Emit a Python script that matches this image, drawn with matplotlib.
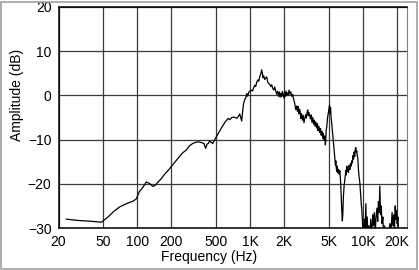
import matplotlib
matplotlib.use("Agg")
import matplotlib.pyplot as plt
from matplotlib.patches import Rectangle

# frequency response (Hz, dB)
freq = [23.5, 30, 40, 48, 55, 62, 70, 80, 92, 98, 104, 112, 120, 128, 137, 143, 150, 162, 175, 190,
        200, 220, 240, 252, 270, 290, 309, 330, 350, 372, 390, 403, 415, 425, 438, 450, 465, 480, 500, 515,
        540, 558, 580, 600, 619, 640, 660, 686, 720, 759, 785, 807, 825, 841, 858, 875, 894, 912, 932, 950,
        970, 991, 1020, 1050, 1075, 1100, 1120, 1143, 1170, 1190, 1214, 1240, 1265, 1285, 1300, 1320, 1346, 1370, 1402, 1430,
        1460, 1490, 1520, 1550, 1585, 1620, 1650, 1690, 1719, 1750, 1780, 1810, 1840, 1870, 1900, 1930, 1960, 1990, 2020, 2050,
        2080, 2110, 2150, 2180, 2210, 2250, 2290, 2335, 2380, 2430, 2483, 2530, 2580, 2620, 2660, 2700, 2740, 2780, 2808, 2850,
        2900, 2950, 3000, 3048, 3100, 3150, 3200, 3240, 3280, 3320, 3375, 3420, 3470, 3530, 3590, 3650, 3700, 3760, 3820, 3890,
        3950, 4000, 4070, 4140, 4200, 4260, 4320, 4400, 4450, 4520, 4580, 4640, 4680, 4720, 4780, 4840, 4880, 4940, 5000, 5050,
        5100, 5160, 5220, 5290, 5350, 5420, 5510, 5580, 5640, 5700, 5740, 5800, 5860, 5920, 5980, 6050, 6120, 6230, 6330, 6420,
        6500, 6560, 6620, 6700, 6800, 6900, 6980, 7050, 7120, 7180, 7260, 7350, 7440, 7540, 7640, 7750, 7850, 7950, 8050, 8150,
        8250, 8350, 8450, 8530, 8630, 8720, 8800, 8900, 9000, 9100, 9200, 9380, 9500, 9650, 9770, 9900, 9960, 10150, 10300, 10450,
        10600, 10750, 10900, 11050, 11250, 11500, 11700, 11900, 12200, 12400, 12600, 12850, 13050, 13300, 13500, 13700, 13900, 14100, 14300, 14500,
        14750, 15000, 15200, 15500, 15900, 16300, 16800, 17300, 17700, 18100, 18400, 18700, 19000, 19300, 19550, 19800, 20100, 20400, 20700, 21000]
amp = [-28.0, -28.3, -28.5, -28.7, -27.5, -26.2, -25.2, -24.5, -23.9, -23.4, -21.8, -20.8, -19.6, -19.9, -20.6, -20.4, -19.8, -18.9, -17.8, -16.8,
       -16.1, -14.8, -13.6, -13.0, -12.4, -11.4, -10.9, -10.6, -10.5, -10.7, -10.9, -12.0, -11.0, -10.9, -10.3, -10.6, -10.9, -10.2, -9.4, -8.8,
       -7.9, -7.3, -6.6, -6.0, -5.6, -5.2, -5.5, -5.0, -4.9, -5.2, -4.8, -4.2, -5.0, -5.8, -3.5, -1.8, -1.0, -0.6, 0.4, -0.2,
       0.7, 0.9, 1.2, 1.0, 1.8, 2.3, 2.0, 3.0, 3.5, 3.2, 4.2, 4.8, 5.8, 4.9, 4.0, 4.4, 3.6, 3.9, 4.2, 3.0,
       2.7, 2.5, 2.0, 2.4, 1.6, 1.2, 1.9, 0.9, 0.3, 0.9, -0.2, 0.8, -0.4, 0.5, -0.3, 0.9, 0.1, -0.6, 0.7, -0.2,
       1.0, -0.1, 0.6, 0.1, 1.2, 0.3, 0.8, -0.2, 0.2, -0.9, -1.8, -3.2, -2.4, -3.6, -2.5, -4.2, -3.1, -3.8, -5.2, -4.1,
       -5.6, -4.5, -6.2, -5.2, -4.4, -5.1, -3.7, -3.3, -4.6, -3.9, -4.6, -5.3, -4.4, -6.1, -5.0, -6.5, -5.6, -7.0, -6.0, -7.4,
       -6.4, -8.0, -7.0, -8.4, -7.5, -9.0, -8.1, -9.7, -8.6, -10.0, -9.2, -11.2, -10.0, -7.8, -7.0, -5.2, -4.6, -3.8, -3.0, -2.2,
       -4.0, -2.8, -5.2, -6.5, -8.0, -9.4, -11.5, -13.0, -14.6, -15.8, -14.8, -16.5, -17.2, -16.0, -17.5, -16.8, -17.8, -17.0, -19.5, -23.5,
       -26.5, -28.4, -27.0, -23.0, -20.5, -19.0, -17.8, -17.0, -18.0, -16.0, -17.2, -16.5, -17.4, -15.8, -16.8, -15.4, -16.0, -14.8, -15.3, -13.6,
       -14.4, -12.8, -13.8, -12.2, -11.8, -12.8, -12.5, -13.6, -14.2, -16.5, -18.0, -19.8, -22.0, -24.5, -26.0, -28.5, -30.5, -32.0, -28.0, -31.0,
       -24.5, -32.0, -27.5, -32.0, -29.5, -32.0, -28.0, -32.0, -27.0, -29.5, -26.5, -31.0, -27.5, -25.5, -28.5, -24.0, -26.5, -20.5, -27.0, -25.0,
       -29.0, -27.5, -32.0, -29.5, -32.0, -30.5, -32.0, -29.0, -31.0, -26.5, -29.5, -27.0, -31.0, -25.0, -28.0, -26.0, -29.0, -27.5, -31.0, -30.5]

xticks = [20, 50, 100, 200, 500, 1000, 2000, 5000, 10000, 20000]
xlabels = ["20", "50", "100", "200", "500", "1K", "2K", "5K", "10K", "20K"]
yticks = [-30, -20, -10, 0, 10, 20]

plt.rcParams['font.family'] = ['Liberation Sans', 'DejaVu Sans']

fig = plt.figure(figsize=(4.19, 2.70), dpi=100)
fig.patch.set_facecolor('white')
# window-like border round the picture
fig.patches.append(Rectangle((0.002, 0.002), 0.994, 0.992, transform=fig.transFigure,
                             fill=False, edgecolor='#a0a0a0', linewidth=1.2))

ax = fig.add_axes([58.5 / 419, 1 - 228 / 270, 348.2 / 419, 221 / 270])
ax.plot(freq, amp, color='black', linewidth=0.9)

ax.set_xscale('log')
ax.set_xlim(20, 24400)
ax.set_ylim(-30, 20)
ax.set_xticks(xticks)
ax.set_xticklabels(xlabels)
ax.minorticks_off()
ax.set_yticks(yticks)
ax.tick_params(length=0, labelsize=10, pad=5)
ax.grid(True, color='#3a3a3a', linewidth=0.9)
ax.set_axisbelow(True)

for s in ['left', 'top', 'bottom']:
    ax.spines[s].set_color('black')
    ax.spines[s].set_linewidth(1.1)
ax.spines['right'].set_color('#808080')

ax.set_xlabel('Frequency (Hz)', fontsize=10)
ax.xaxis.label.set_va('center')
ax.xaxis.set_label_coords(0.432, -0.131)
ax.set_ylabel('Amplitude (dB)', fontsize=10)
ax.yaxis.label.set_va('center')
ax.yaxis.set_label_coords(-0.119, 0.6)

fig.savefig('out.png', dpi=100, facecolor='white')
